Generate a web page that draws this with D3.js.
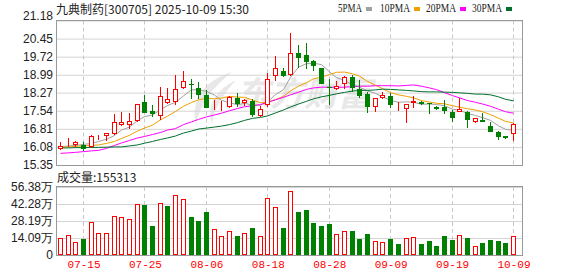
<!DOCTYPE html>
<html>
<head>
<meta charset="utf-8">
<title>九典制药 日K</title>
<script src="https://cdnjs.cloudflare.com/ajax/libs/d3/7.8.5/d3.min.js"></script>
<style>
  body { margin: 0; background: #fff; }
  svg { display: block; }
  .yaxis text { font: 12px "Liberation Sans", Arial, sans-serif; fill: #222; }
  .xaxis text { font: 11px "Liberation Mono", monospace; fill: #f00; }
  .title { font: 12px "Noto Sans CJK SC", sans-serif; fill: #222; }
  .legend { font: 12px "Liberation Serif", serif; fill: #222; }
</style>
</head>
<body>
<svg id="chart" width="578" height="276"></svg>
<script>
var dates = ["07-10","07-11","07-14","07-15","07-16","07-17","07-18","07-21","07-22","07-23",
             "07-24","07-25","07-28","07-29","07-30","07-31","08-01","08-04","08-05","08-06",
             "08-07","08-08","08-11","08-12","08-13","08-14","08-15","08-18","08-19","08-20",
             "08-21","08-22","08-25","08-26","08-27","08-28","08-29","09-01","09-02","09-03",
             "09-04","09-05","09-08","09-09","09-10","09-11","09-12","09-15","09-16","09-17",
             "09-18","09-19","09-22","09-23","09-24","09-25","09-26","09-29","09-30","10-09"];

var open  = [16.01,16.15,16.16,16.17,16.06,16.48,16.52,16.60,16.95,16.96,
             17.11,17.89,17.52,17.33,17.84,17.90,18.44,18.62,18.44,18.17,
             17.67,17.66,17.68,18.06,17.84,17.93,17.34,17.77,18.95,19.15,
             18.98,19.88,19.80,19.55,19.28,18.50,18.42,18.61,18.92,18.40,
             18.23,17.70,18.04,18.13,17.68,17.60,17.84,17.91,17.84,17.71,
             17.70,17.47,17.50,17.48,17.07,17.17,16.94,16.69,16.52,16.59];
var high  = [16.28,16.43,16.32,16.27,16.55,16.56,16.64,17.41,17.48,17.44,
             17.81,18.19,17.76,18.48,18.44,18.98,19.14,18.81,18.68,18.38,
             17.99,17.93,18.15,18.25,18.03,18.01,17.73,19.05,19.75,19.28,
             20.69,20.19,20.28,19.59,19.28,18.82,18.74,18.94,18.98,18.78,
             18.30,18.07,18.28,18.24,17.90,17.81,18.13,17.94,17.85,17.74,
             17.97,17.56,18.05,17.53,17.25,17.46,17.10,16.74,16.53,17.03];
var low   = [15.96,16.09,16.08,15.93,16.04,16.36,16.33,16.57,16.92,16.81,
             17.08,17.43,17.30,17.17,17.80,17.76,18.40,18.00,18.01,17.63,
             17.55,17.51,17.64,17.69,17.73,17.30,17.30,17.70,18.74,18.91,
             18.96,19.25,19.21,19.15,18.61,17.77,18.38,18.40,18.31,18.04,
             17.43,17.49,18.00,17.63,17.53,17.03,17.63,17.79,17.41,17.57,
             17.41,17.10,17.49,16.84,17.03,17.08,16.68,16.36,16.39,16.32];
var close = [16.13,16.19,16.28,16.01,16.51,16.52,16.63,17.07,17.08,17.11,
             17.80,17.44,17.41,18.13,18.00,18.42,18.75,18.58,18.19,17.65,
             17.69,17.70,18.08,17.81,17.96,17.35,17.60,18.81,19.25,18.95,
             19.86,19.65,19.49,19.34,18.63,18.44,18.53,18.89,18.46,18.13,
             17.67,18.07,18.19,17.77,17.70,17.80,17.94,17.81,17.80,17.61,
             17.53,17.26,17.59,17.15,17.23,17.09,16.69,16.49,16.44,17.02];
var volume = [137400,162100,104400,131900,277500,178600,179000,327000,318800,296800,
              425900,412200,239100,428000,404000,500100,461700,313300,280300,354500,
              211600,156600,195100,159000,178600,222600,157000,475400,401200,222600,
              527600,357200,371000,266600,239100,255600,173100,197900,196000,134700,
              174000,115400,104400,131900,90700,140100,148400,91000,117000,76900,
              156600,123700,164900,141000,74200,98900,125000,116000,98000,155313];

var ma5  = [16.09,16.12,16.14,16.18,16.22,16.30,16.39,16.54,16.76,16.88,
            17.14,17.30,17.37,17.58,17.75,17.88,18.14,18.38,18.39,18.32,
            18.17,17.96,17.86,17.78,17.84,17.77,17.76,17.90,18.19,18.39,
            18.89,19.30,19.44,19.46,19.40,19.11,18.88,18.76,18.59,18.49,
            18.34,18.24,18.10,17.96,17.88,17.90,17.88,17.80,17.81,17.79,
            17.74,17.60,17.56,17.43,17.35,17.26,17.15,16.93,16.79,16.75];
var ma10 = [16.06,16.08,16.10,16.12,16.14,16.16,16.22,16.30,16.42,16.55,
            16.72,16.84,16.96,17.17,17.32,17.51,17.72,17.87,17.98,18.04,
            18.02,18.05,18.12,18.09,18.08,17.97,17.86,17.88,17.99,18.12,
            18.34,18.53,18.67,18.83,18.89,19.00,19.09,19.10,19.03,18.94,
            18.72,18.57,18.43,18.27,18.18,18.12,18.06,17.95,17.89,17.84,
            17.82,17.74,17.68,17.62,17.57,17.50,17.38,17.24,17.11,17.05];
var ma20 = [15.82,15.84,15.86,15.89,15.92,15.94,16.02,16.14,16.24,16.34,
            16.44,16.50,16.58,16.66,16.76,16.82,16.98,17.09,17.19,17.29,
            17.37,17.44,17.54,17.63,17.70,17.74,17.79,17.88,17.98,18.08,
            18.18,18.29,18.40,18.46,18.49,18.49,18.48,18.49,18.51,18.53,
            18.53,18.55,18.55,18.55,18.54,18.56,18.58,18.53,18.46,18.39,
            18.27,18.15,18.06,17.95,17.88,17.81,17.72,17.60,17.50,17.44];
var ma30 = [16.04,16.04,16.05,16.05,16.06,16.06,16.07,16.08,16.08,16.12,
            16.16,16.23,16.30,16.38,16.44,16.52,16.64,16.72,16.80,16.84,
            16.88,16.92,16.98,17.06,17.15,17.23,17.27,17.33,17.45,17.57,
            17.69,17.81,17.92,18.02,18.10,18.16,18.22,18.28,18.33,18.36,
            18.36,18.38,18.41,18.40,18.38,18.36,18.34,18.31,18.30,18.30,
            18.29,18.28,18.26,18.24,18.21,18.21,18.18,18.10,18.00,17.94];

var priceTicks  = [15.35,16.08,16.81,17.54,18.27,18.99,19.72,20.45,21.18];
var priceLabels = ["15.35","16.08","16.81","17.54","18.27","18.99","19.72","20.45","21.18"];
var volTicks  = [0,140950,281900,422850,563800];
var volLabels = ["0","14.09万","28.19万","42.28万","56.38万"];
var tickDates = ["07-15","07-25","08-06","08-18","08-28","09-09","09-19","10-09"];

var maNames  = ["5PMA","10PMA","20PMA","30PMA"];
var maColors = ["#a0a0a0","#f0a000","#ff00ff","#006f2e"];

var RED = "#ff0000", GREEN = "#008000";
var left = 56, right = 522;
var pTop = 20.5, pBot = 165, vTop = 187, vBot = 255;

var svg = d3.select("#chart");

var x = d3.scalePoint().domain(dates).range([60, 513]);
var yP = d3.scaleLinear().domain([15.35, 21.18]).range([pBot, pTop]);
var yV = d3.scaleLinear().domain([0, 563800]).range([vBot, vTop]);

function cx(d) { return Math.round(x(d)); }

// watermark (logo swoosh + name)
var wm = svg.append("g").attr("fill", "#e8e8e8");
wm.append("path").attr("d", "M232,72 C205,80 190,100 196,124 C200,104 212,88 232,72 Z");
wm.append("path").attr("d", "M236,80 C216,90 206,106 212,124 C214,108 222,96 236,80 Z");
wm.append("text")
  .attr("x", 236).attr("y", 106)
  .attr("font-family", "Noto Sans CJK SC").attr("font-size", 34).attr("font-weight", "bold")
  .attr("font-style", "italic")
  .text("东方财富");

// horizontal grids
svg.append("g").attr("transform", "translate(" + left + ",0)")
  .call(d3.axisLeft(yP).tickValues(priceTicks).tickSize(-(right - left)).tickFormat(""))
  .call(function(g){ g.select(".domain").remove(); g.selectAll("line").attr("stroke", "#d4d4d4"); });
svg.append("g").attr("transform", "translate(" + left + ",0)")
  .call(d3.axisLeft(yV).tickValues(volTicks).tickSize(-(right - left)).tickFormat(""))
  .call(function(g){ g.select(".domain").remove(); g.selectAll("line").attr("stroke", "#d4d4d4"); });

// vertical dashed grids
[[pTop, pBot], [vTop, vBot]].forEach(function(r) {
  svg.append("g").selectAll("line").data(tickDates).enter().append("line")
    .attr("x1", function(d){ return cx(d) + 0.5; }).attr("x2", function(d){ return cx(d) + 0.5; })
    .attr("y1", r[0]).attr("y2", r[1])
    .attr("stroke", "#c8c8c8").attr("stroke-dasharray", "4,3");
});

// frames
svg.append("rect").attr("x", left + 0.5).attr("y", 20.5).attr("width", right - left).attr("height", pBot - 20)
  .attr("fill", "none").attr("stroke", "#999");
svg.append("rect").attr("x", left + 0.5).attr("y", vTop - 0.5).attr("width", right - left).attr("height", vBot - vTop + 1)
  .attr("fill", "none").attr("stroke", "#999");

// axes labels
var ya = svg.append("g").attr("class", "yaxis").attr("transform", "translate(" + left + ",0)")
  .call(d3.axisLeft(yP).tickValues(priceTicks).tickSize(0).tickPadding(3)
    .tickFormat(function(d, i){ return priceLabels[i]; }));
ya.select(".domain").remove();
ya.selectAll("text").filter(function(d){ return d === 21.18; }).attr("dy", "-0.05em");

var va = svg.append("g").attr("class", "yaxis").attr("transform", "translate(" + left + ",0)")
  .call(d3.axisLeft(yV).tickValues(volTicks).tickSize(0).tickPadding(3)
    .tickFormat(function(d, i){ return volLabels[i]; }));
va.select(".domain").remove();

var xa = svg.append("g").attr("class", "xaxis").attr("transform", "translate(0.5," + vBot + ")")
  .call(d3.axisBottom(x).tickValues(tickDates).tickSize(0).tickPadding(5));
xa.select(".domain").remove();

// MA lines
[ma5, ma10, ma20, ma30].forEach(function(arr, k) {
  var line = d3.line()
    .x(function(d, i){ return cx(dates[i]) + 0.5; })
    .y(function(d){ return yP(d); });
  svg.append("path").datum(arr)
    .attr("d", line).attr("fill", "none")
    .attr("stroke", maColors[k]).attr("stroke-width", 1);
});

// candles
var k = svg.append("g").selectAll("g").data(dates).enter().append("g");
k.append("line")
  .attr("x1", function(d){ return cx(d) + 0.5; }).attr("x2", function(d){ return cx(d) + 0.5; })
  .attr("y1", function(d, i){ return Math.round(yP(high[i])); })
  .attr("y2", function(d, i){ return Math.round(yP(low[i])); })
  .attr("stroke", function(d, i){ return close[i] >= open[i] ? RED : GREEN; });
k.append("rect")
  .each(function(d, i) {
    var up = close[i] >= open[i];
    var t = Math.round(yP(Math.max(open[i], close[i])));
    var b = Math.round(yP(Math.min(open[i], close[i])));
    var r = d3.select(this);
    if (up) {
      r.attr("x", cx(d) - 1.5).attr("y", t + 0.5).attr("width", 4).attr("height", Math.max(b - t - 1, 0))
        .attr("fill", "#fff").attr("stroke", RED);
    } else {
      r.attr("x", cx(d) - 2).attr("y", t).attr("width", 5).attr("height", Math.max(b - t, 1))
        .attr("fill", GREEN);
    }
  });

// volume bars (colour by close vs previous close)
svg.append("g").selectAll("rect").data(dates).enter().append("rect")
  .each(function(d, i) {
    var up = i === 0 ? close[0] >= open[0] : close[i] >= close[i - 1];
    var t = Math.round(yV(volume[i]));
    var r = d3.select(this);
    if (up) {
      r.attr("x", cx(d) - 1.5).attr("y", t + 0.5).attr("width", 4).attr("height", vBot - t - 1)
        .attr("fill", "#fff").attr("stroke", RED);
    } else {
      r.attr("x", cx(d) - 2).attr("y", t).attr("width", 5).attr("height", vBot - t)
        .attr("fill", GREEN);
    }
  });

// header
svg.append("text").attr("class", "title").attr("x", 56).attr("y", 14)
  .text("九典制药[300705] 2025-10-09 15:30");
svg.append("text").attr("class", "title").attr("x", 57).attr("y", 182)
  .text("成交量:" + volume[volume.length - 1]);

// legend
var legX = [338, 380, 426, 472];
maNames.forEach(function(n, i) {
  var w = n.length * 6;
  svg.append("text").attr("class", "legend").attr("x", legX[i]).attr("y", 12)
    .attr("textLength", w).attr("lengthAdjust", "spacingAndGlyphs").text(n);
  svg.append("rect").attr("x", legX[i] + w + 4).attr("y", 7).attr("width", 6).attr("height", 4)
    .attr("fill", maColors[i]);
});
</script>
</body>
</html>
